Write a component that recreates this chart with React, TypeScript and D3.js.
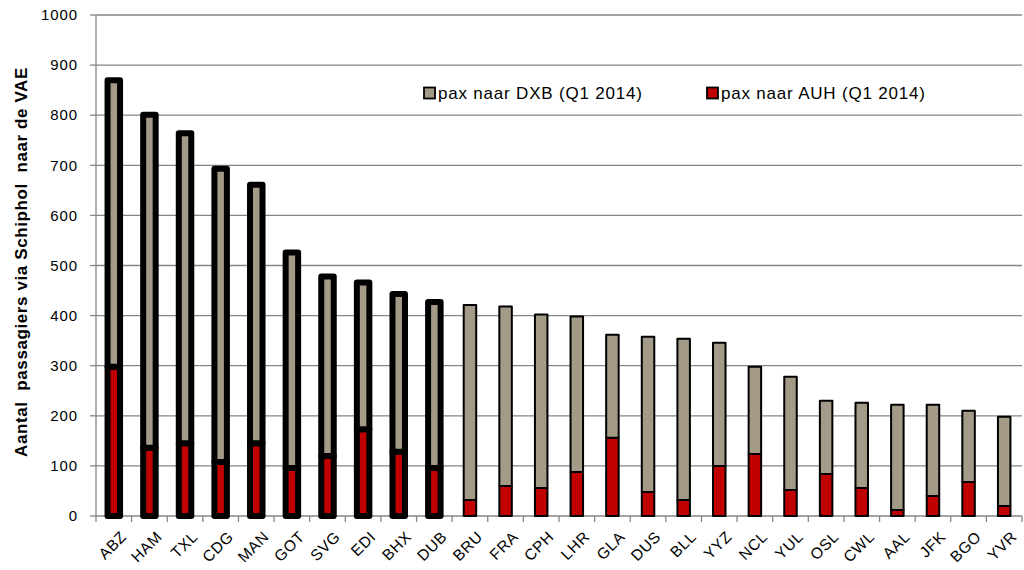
import React from "react";
import * as d3 from "d3";

const airports = ["ABZ", "HAM", "TXL", "CDG", "MAN", "GOT", "SVG", "EDI", "BHX", "DUB", "BRU", "FRA", "CPH", "LHR", "GLA", "DUS", "BLL", "YYZ", "NCL", "YUL", "OSL", "CWL", "AAL", "JFK", "BGO", "YVR"];
const paxAUH = [298, 136, 145, 108, 145, 96, 120, 173, 128, 96, 32, 60, 56, 88, 156, 48, 32, 100, 124, 52, 84, 56, 12, 40, 68, 20];
const paxTotal = [870, 801, 764, 693, 661, 526, 478, 466, 443, 427, 421, 418, 402, 398, 362, 358, 354, 346, 298, 278, 230, 226, 222, 222, 210, 198];
const paxDXB = paxTotal.map((t, i) => t - paxAUH[i]);
// the first ten airports are drawn with a heavy outline
const highlighted = airports.slice(0, 10);
const yTicks = [0, 100, 200, 300, 400, 500, 600, 700, 800, 900, 1000];

const W = 1024;
const H = 570;
const margin = { top: 15, right: 2, bottom: 54, left: 96 };

const App: React.FC = () => {
  const width = W - margin.left - margin.right;
  const height = H - margin.top - margin.bottom;

  const x = d3.scaleBand().domain(airports).range([0, width]).paddingInner(0).paddingOuter(0);
  const y = d3.scaleLinear().domain([0, 1000]).range([height, 0]);

  const barW = 12.5;
  const font = "Arial, 'Liberation Sans', sans-serif";

  return (
    <svg width={W} height={H} style={{ position: "absolute", left: 0, top: 0, background: "#fff" }}>
      <g transform={`translate(${margin.left},${margin.top})`}>
        {/* gridlines */}
        {yTicks.map((t) => (
          <line key={`g${t}`} x1={0} x2={width} y1={y(t)} y2={y(t)} stroke="#868686" strokeWidth={1.3} />
        ))}
        {/* y axis */}
        <line x1={0} x2={0} y1={0} y2={height} stroke="#868686" strokeWidth={1.3} />
        {yTicks.map((t) => (
          <g key={`yt${t}`}>
            <line x1={-6} x2={0} y1={y(t)} y2={y(t)} stroke="#868686" strokeWidth={1.3} />
            <text x={-18} y={y(t)} dy="0.35em" textAnchor="end" fontFamily={font} fontSize={15} letterSpacing={0.9} fill="#000">
              {t}
            </text>
          </g>
        ))}
        {/* x ticks */}
        {airports.map((a) => (
          <line key={`xt${a}`} x1={x(a) || 0} x2={x(a) || 0} y1={height} y2={height + 6} stroke="#868686" strokeWidth={1.3} />
        ))}
        <line x1={width} x2={width} y1={height} y2={height + 6} stroke="#868686" strokeWidth={1.3} />
        {/* bars */}
        {airports.map((a, i) => {
          const cx = (x(a) || 0) + x.bandwidth() / 2;
          const heavy = highlighted.includes(a);
          const sw = heavy ? 6 : 2;
          return (
            <g key={`b${a}`}>
              <rect x={cx - barW / 2} y={y(paxAUH[i])} width={barW} height={y(0) - y(paxAUH[i])} fill="#C00000" stroke="#000" strokeWidth={sw} strokeLinejoin="round" />
              <rect x={cx - barW / 2} y={y(paxTotal[i])} width={barW} height={y(0) - y(paxDXB[i])} fill="#A39A87" stroke="#000" strokeWidth={sw} strokeLinejoin="round" />
            </g>
          );
        })}
        {/* x labels */}
        {airports.map((a) => {
          const cx = (x(a) || 0) + x.bandwidth() / 2;
          return (
            <text key={`xl${a}`} transform={`translate(${cx + 6},${height + 14}) rotate(-45)`} textAnchor="end" dy="0.7em" fontFamily={font} fontSize={15.5} letterSpacing={0.6} fill="#000">
              {a}
            </text>
          );
        })}
      </g>
      {/* legend */}
      <g fontFamily={font} fontSize={17} letterSpacing={0.8} fill="#000">
        <rect x={424} y={87.5} width={11} height={11} fill="#A39A87" stroke="#000" strokeWidth={1.8} />
        <text x={438} y={99}>pax naar DXB (Q1 2014)</text>
        <rect x={707} y={87.5} width={11} height={11} fill="#C00000" stroke="#000" strokeWidth={1.8} />
        <text x={721} y={99}>pax naar AUH (Q1 2014)</text>
      </g>
      {/* y axis title */}
      <text transform={`translate(27,262) rotate(-90)`} textAnchor="middle" fontFamily={font} fontSize={17} fontWeight="bold" letterSpacing={0.6} fill="#000" style={{ whiteSpace: "pre" }}>
        {"Aantal  passagiers via Schiphol  naar de VAE"}
      </text>
    </svg>
  );
};

export default App;
